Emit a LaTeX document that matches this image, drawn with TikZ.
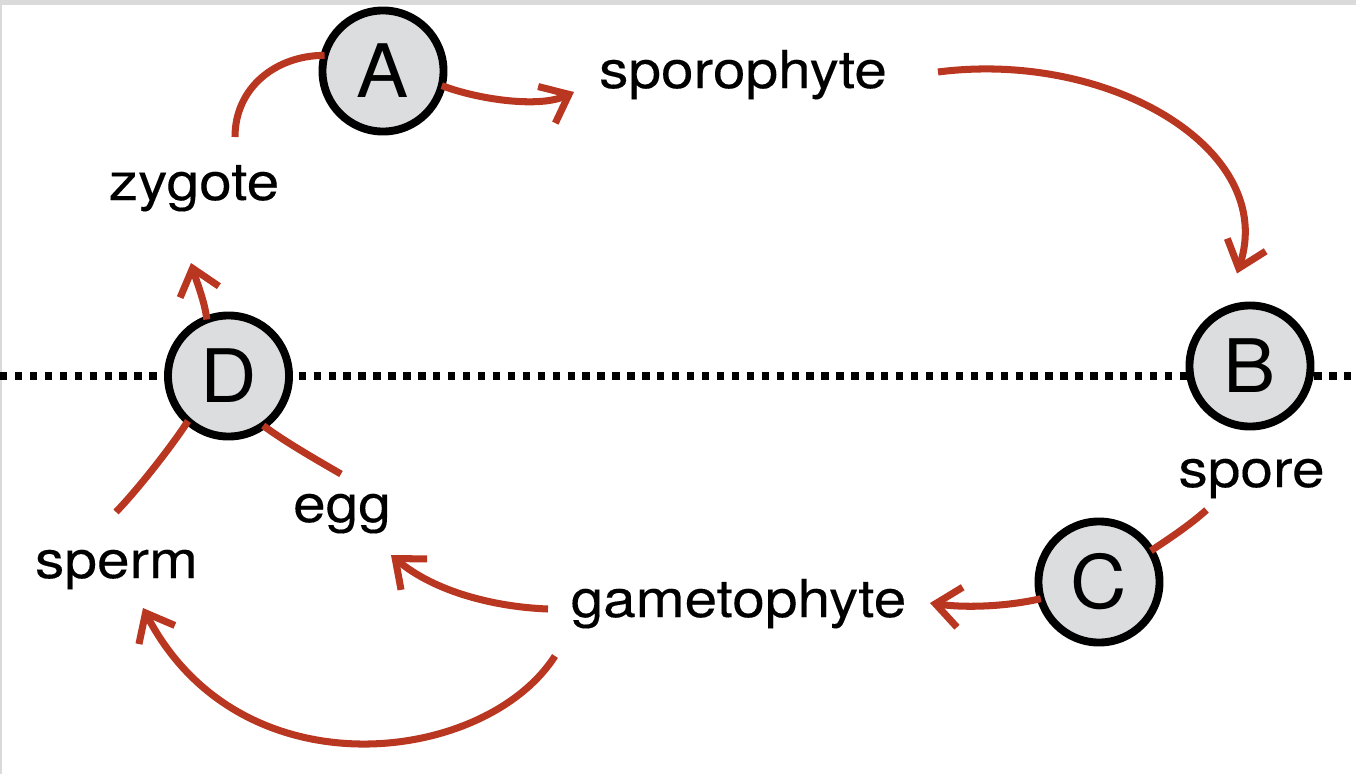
\documentclass[tikz,border=0pt]{standalone}
\usepackage{fontspec}
\setmainfont{TeX Gyre Heros}[FakeStretch=1.12, FakeBold=0.2]
\newfontfamily\stagefont{TeX Gyre Heros}[FakeStretch=1.06]
\usetikzlibrary{arrows.meta}
\definecolor{arrred}{RGB}{185,54,33}
\definecolor{circfill}{RGB}{220,221,223}
\definecolor{framegray}{RGB}{218,218,218}
\tikzset{
  stage/.style={circle, draw=black, fill=circfill, line width=4.5pt, minimum size=68.9pt, inner sep=0pt, outer sep=0pt, font=\stagefont\fontsize{42}{42}\selectfont},
  lbl/.style={anchor=base, inner sep=0pt, outer sep=0pt, font=\fontsize{29.8}{30}\selectfont},
  link/.style={draw=arrred, line width=4pt},
  flow/.style={link, -{Straight Barb[length=14pt, width=23pt, line cap=butt, line join=miter]}},
  divider/.style={line width=4.2pt, dash pattern=on 4.2pt off 4.3pt}
}
\begin{document}
\begin{tikzpicture}[x=0.02cm, y=-0.02cm]
\useasboundingbox (0,0) rectangle (1356,774);
\fill[white] (0,0) rectangle (1356,774);
\fill[framegray] (0,0) rectangle (1356,5);
\fill[framegray] (0,0) rectangle (2,774);
% dotted divider
\coordinate (dl) at (0,376);
\coordinate (dr) at (1356,376);
\draw[divider] (dl) -- (dr);
% stages
\node[stage] (A) at (383,71) {A};
\node[stage] (B) at (1250,366) {B};
\node[stage] (C) at (1099,582) {C};
\node[stage] (D) at (228.5,376) {D};
% labels
\node[lbl] (sp) at (743,88) {sporophyte};
\node[lbl] (zy) at (194,200) {zygote};
\node[lbl] (so) at (1251.5,487) {spore};
\node[lbl] (gm) at (738.5,617) {gametophyte};
\node[lbl] (eg) at (342,522) {egg};
\node[lbl] (pm) at (116.5,578) {sperm};
% connectors
\draw[link] ([shift={(41,-63)}]zy.base) .. controls +(0,-50) and +(-48,0) .. (A.165);
\draw[flow] (A.346) .. controls (480,100) and (540,108) .. ([shift={(-169,4)}]sp.base);
\draw[flow] ([shift={(195,-16)}]sp.base) .. controls (1110,50) and (1278,150) .. ([shift={(-13,-32)}]B.north);
\draw[link] ([shift={(-45,23)}]so.base) .. controls +(-18,16) and +(18,-12) .. (C.31);
\draw[flow] (C.196) .. controls +(-35,8) and +(35,5) .. ([shift={(191.5,-14)}]gm.base);
\draw[flow] ([shift={(-190.5,-8)}]gm.base) .. controls (495,607) and (435,592) .. ([shift={(49,33)}]eg.base);
\draw[flow] ([shift={(-183.5,39)}]gm.base) .. controls (485,765) and (240,795) .. ([shift={(26.5,30)}]pm.base);
\draw[link] ([shift={(-0.5,-66)}]pm.base) .. controls +(24,-25) and +(-14,22) .. (D.228);
\draw[link] ([shift={(-1,-48)}]eg.base) .. controls +(-26,-15) and +(20,15) .. (D.305);
\draw[flow] (D.111) .. controls +(-2,-18) and +(5,17) .. ([shift={(-3,63)}]zy.base);
\end{tikzpicture}
\end{document}
